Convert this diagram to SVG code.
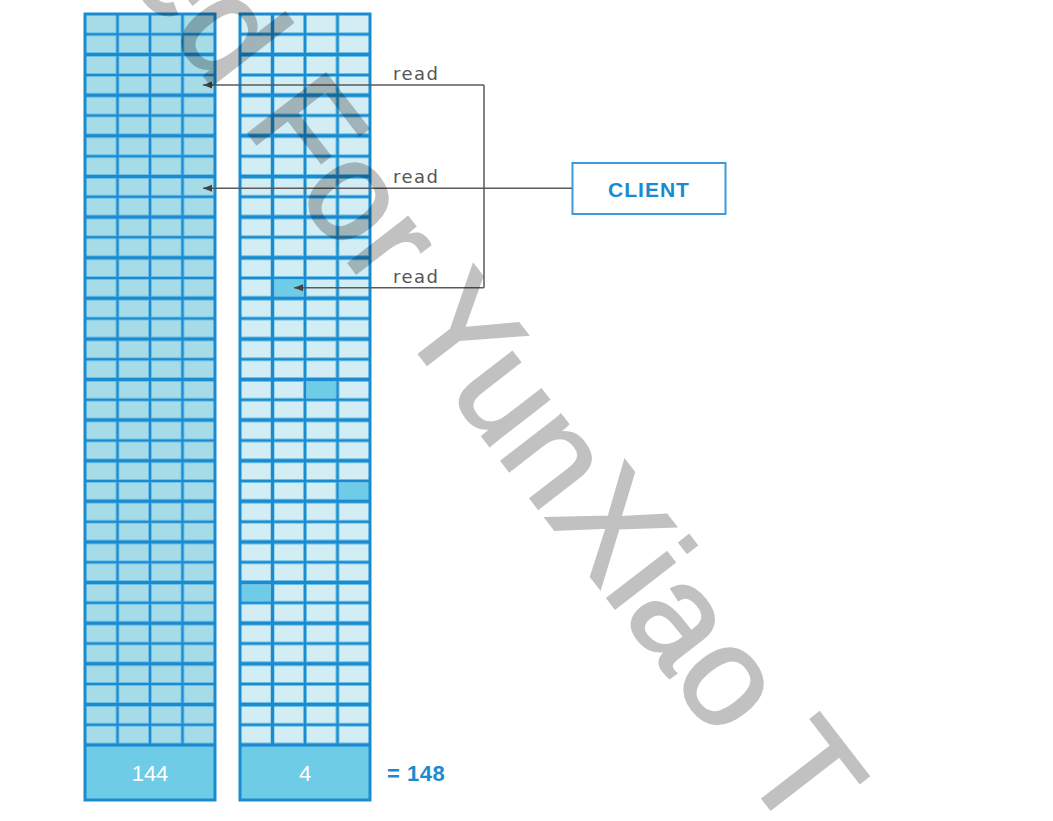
<svg xmlns="http://www.w3.org/2000/svg" width="1053" height="821" viewBox="0 0 1053 821">
<style>
.colL{fill:#a6dbe8}
.colR{fill:#d2edf4}
.hi{fill:#6ecce6}
.halo{stroke:#6cc0e6;fill:none}
.ln{stroke:#1a8bd0;fill:none}
.lbl{font-family:"DejaVu Sans",sans-serif;font-size:18px;fill:#555;letter-spacing:1.5px}
.num{font-family:"Liberation Sans",Arial,sans-serif;font-size:22px;fill:#ffffff;text-anchor:middle}
.conn{stroke:#5a5a5a;stroke-width:1.5;fill:none}
</style>
<defs>
<marker id="ah" markerUnits="userSpaceOnUse" markerWidth="10" markerHeight="9" refX="9" refY="4.5" orient="auto">
<path d="M0,1 L9,4.5 L0,8 z" fill="#444"/>
</marker>
<path id="thin" d="M0 34.31h130M0 74.92h130M0 115.53h130M0 156.14h130M0 196.75h130M0 237.36h130M0 277.97h130M0 318.58h130M0 359.19h130M0 399.81h130M0 440.42h130M0 481.03h130M0 521.64h130M0 562.25h130M0 602.86h130M0 643.47h130M0 684.08h130M0 724.69h130"/>
<path id="thick" d="M0 54.61h130M0 95.22h130M0 135.83h130M0 176.44h130M0 217.06h130M0 257.67h130M0 298.28h130M0 338.89h130M0 379.5h130M0 420.11h130M0 460.72h130M0 501.33h130M0 541.94h130M0 582.56h130M0 623.17h130M0 663.78h130M0 704.39h130M0 745h130"/>
</defs>
<rect width="1053" height="821" fill="#ffffff"/>

<g id="segments-full">
<rect class="colL" x="85" y="14" width="130" height="731"/>
<rect class="hi" x="85" y="745" width="130" height="55"/>
<g transform="translate(85,0)">
<use href="#thin" class="halo" stroke-width="4"/>
<use href="#thick" class="halo" stroke-width="5"/>
<path class="halo" stroke-width="4" d="M32.5 14V745M65 14V745M97.5 14V745"/>
<use href="#thin" class="ln" stroke-width="2"/>
<use href="#thick" class="ln" stroke-width="3"/>
<path class="ln" stroke-width="2" d="M32.5 14V745M65 14V745M97.5 14V745"/>
</g>
<rect class="ln" x="85" y="14" width="130" height="786" stroke-width="3"/>
<text class="num" x="150" y="781">144</text>
</g>

<g id="segments-sparse">
<rect class="colR" x="240" y="14" width="130" height="731"/>
<rect class="hi" x="272.5" y="277.97" width="32.5" height="20.31"/>
<rect class="hi" x="305" y="379.5" width="32.5" height="20.31"/>
<rect class="hi" x="337.5" y="481.03" width="32.5" height="20.3"/>
<rect class="hi" x="240" y="582.56" width="32.5" height="20.3"/>
<rect class="hi" x="240" y="745" width="130" height="55"/>
<g transform="translate(240,0)">
<use href="#thin" class="halo" stroke-width="4"/>
<use href="#thick" class="halo" stroke-width="5"/>
<path class="halo" stroke-width="4" d="M32.5 14V745M65 14V745M97.5 14V745"/>
<use href="#thin" class="ln" stroke-width="2"/>
<use href="#thick" class="ln" stroke-width="3"/>
<path class="ln" stroke-width="3" d="M32.5 14V745"/>
<path class="ln" stroke-width="2" d="M65 14V745M97.5 14V745"/>
</g>
<rect class="ln" x="240" y="14" width="130" height="786" stroke-width="3"/>
<text class="num" x="305" y="781">4</text>
</g>

<g id="total">
<text x="387" y="781" font-family="Liberation Sans, Arial, sans-serif" font-size="22" font-weight="bold" fill="#1a8bd0" letter-spacing="0.5">= 148</text>
</g>

<g id="client">
<rect x="572.5" y="163" width="153" height="51" fill="#ffffff" stroke="#3a9ddb" stroke-width="2"/>
<text x="649" y="196.5" text-anchor="middle" font-family="Liberation Sans, Arial, sans-serif" font-size="21" font-weight="bold" letter-spacing="1" fill="#1a8bd0">CLIENT</text>
</g>

<g id="connectors">
<path class="conn" d="M484 85V287.7"/>
<path class="conn" d="M484 85H203" marker-end="url(#ah)"/>
<path class="conn" d="M572 188.3H203" marker-end="url(#ah)"/>
<path class="conn" d="M484 287.7H294" marker-end="url(#ah)"/>
<text class="lbl" x="393" y="80">read</text>
<text class="lbl" x="393" y="183">read</text>
<text class="lbl" x="393" y="283">read</text>
</g>

<g id="watermark" opacity="0.24">
<text transform="rotate(52.3)" x="48.6" y="-115" font-family="Liberation Sans, Arial, sans-serif" font-size="142" fill="#000" stroke="#000" stroke-width="2.5">ed For YunXiao T</text>
</g>
</svg>
